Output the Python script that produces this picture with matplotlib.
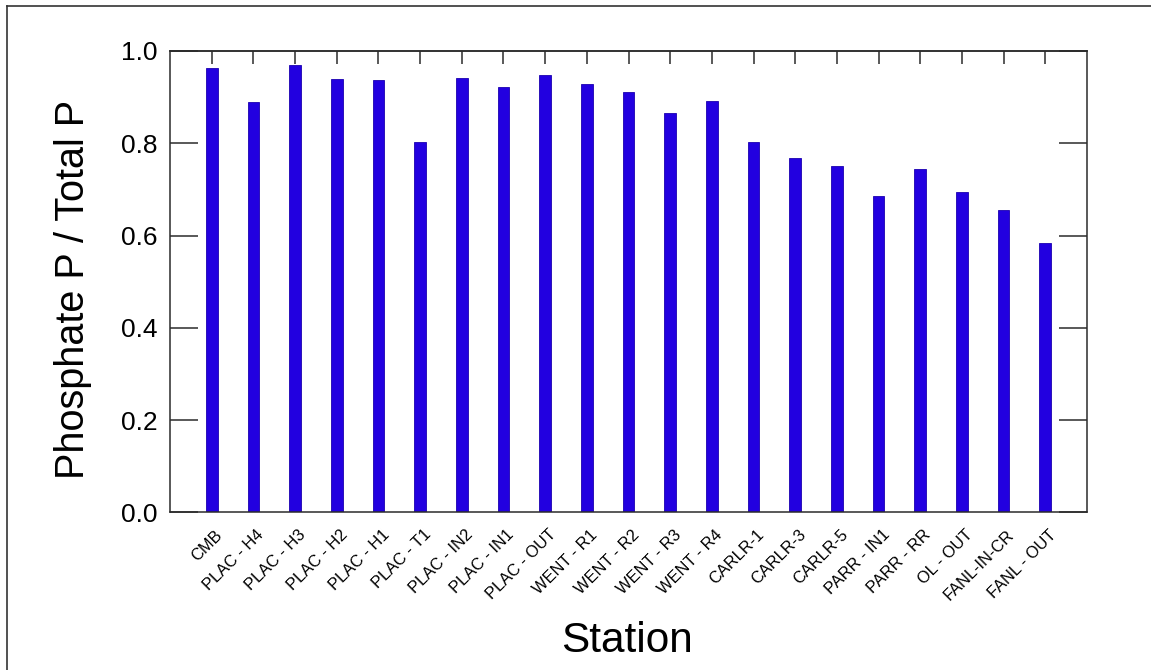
import matplotlib
matplotlib.use("Agg")
import matplotlib.pyplot as plt
from matplotlib.lines import Line2D
import numpy as np

stations = [
    "CMB", "PLAC - H4", "PLAC - H3", "PLAC - H2", "PLAC - H1", "PLAC - T1",
    "PLAC - IN2", "PLAC - IN1", "PLAC - OUT", "WENT - R1", "WENT - R2",
    "WENT - R3", "WENT - R4", "CARLR-1", "CARLR-3", "CARLR-5", "PARR - IN1",
    "PARR - RR", "OL - OUT", "FANL-IN-CR", "FANL - OUT",
]
ratio = [
    0.964, 0.890, 0.969, 0.939, 0.937, 0.802, 0.941, 0.921, 0.948, 0.929,
    0.911, 0.865, 0.892, 0.802, 0.767, 0.751, 0.686, 0.745, 0.695, 0.655,
    0.584,
]
yticks = [0.0, 0.2, 0.4, 0.6, 0.8, 1.0]

plt.rcParams["font.family"] = ["Liberation Sans", "DejaVu Sans"]
edge = "#2b2b2b"

fig = plt.figure(figsize=(11.51, 6.70), dpi=100)
ax = fig.add_axes([0.1477, 0.2354, 0.7967, 0.6885])

x = np.arange(len(stations))
ax.bar(x, ratio, width=0.28, color="#2200e0", edgecolor="#1a00b0", linewidth=0.6, zorder=2)

ax.set_xlim(-1, len(stations))
ax.set_ylim(0, 1.0)
ax.set_yticks(yticks)
ax.set_yticklabels([f"{v:.1f}" for v in yticks], fontsize=19)

# station names sit slightly right of each bar in the original
ax.set_xticks(x + 0.2)
ax.set_xticklabels(stations, rotation=45, ha="right", va="center",
                   rotation_mode="anchor", fontsize=11.8)
ax.tick_params(axis="x", bottom=False, pad=11)

# tick marks along the top, one per bar
top = ax.secondary_xaxis("top")
top.set_xticks(x)
top.set_xticklabels([])
top.tick_params(direction="in", length=9.5, width=1.1, color=edge)
top.spines["top"].set_color(edge)
top.spines["top"].set_linewidth(1.1)

ax.tick_params(axis="y", direction="in", length=20, width=1.1, color=edge,
               left=True, right=True, pad=9)
for s in ax.spines.values():
    s.set_color(edge)
    s.set_linewidth(1.1)

ax.set_ylabel("Phosphate P / Total P", fontsize=28.5)
ax.yaxis.set_label_coords(-0.085, 0.484)
ax.set_xlabel("Station", fontsize=30.5, va="center")
ax.xaxis.set_label_coords(0.498, -0.279)

# outer frame of the original screenshot (top and left edges)
fig.add_artist(Line2D([7 / 1151, 1], [1 - 6 / 670, 1 - 6 / 670],
                      transform=fig.transFigure, color="#333333", lw=1.2))
fig.add_artist(Line2D([7 / 1151, 7 / 1151], [0, 1 - 6 / 670],
                      transform=fig.transFigure, color="#333333", lw=1.2))

fig.savefig("out.png", dpi=100)
